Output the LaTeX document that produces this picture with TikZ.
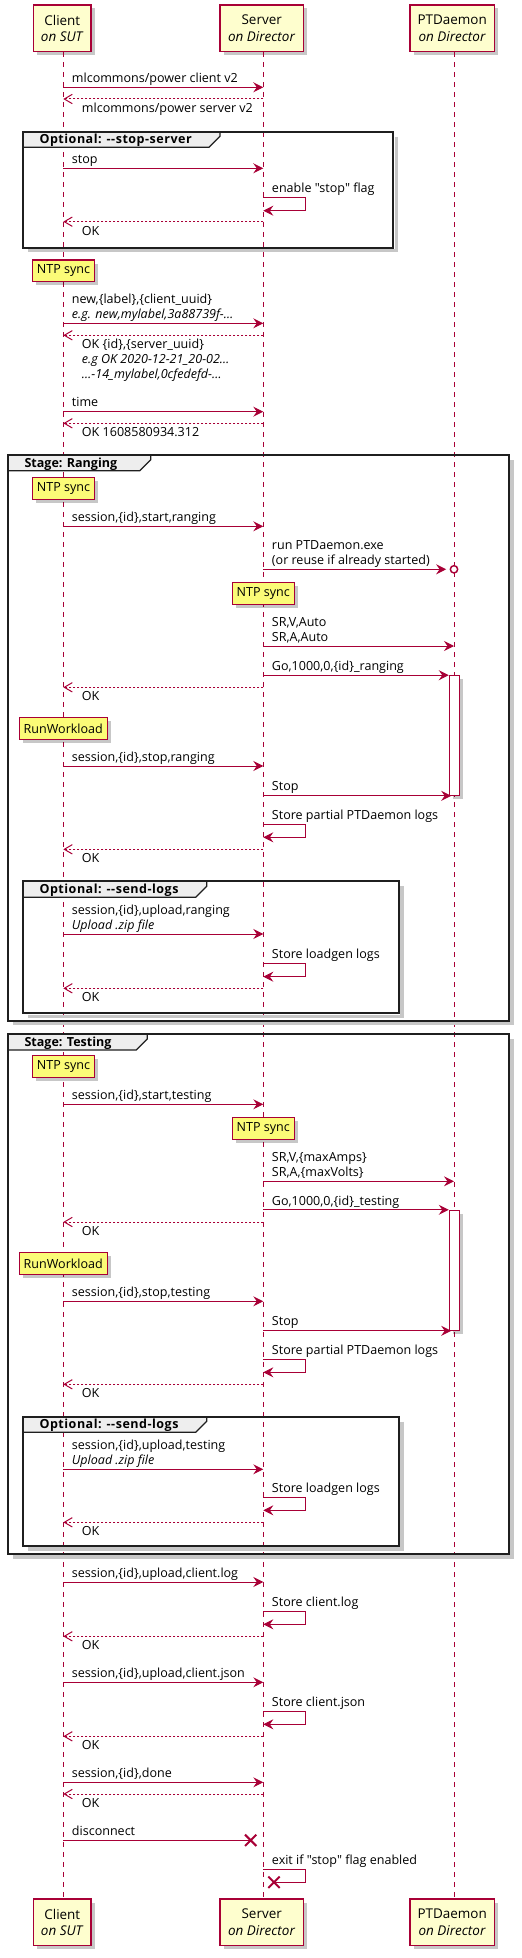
\documentclass[tikz,border=0pt]{standalone}
\usepackage{fontspec}
\setmainfont{Open Sans}[Ligatures=TeXOff]
\usetikzlibrary{arrows.meta,shapes.misc,shadows}
\definecolor{pu}{HTML}{A80036}
\definecolor{partfill}{HTML}{FEFECE}
\definecolor{notefill}{HTML}{FBFB77}
\definecolor{grphead}{HTML}{EEEEEE}
\newcommand\msgfont{\fontsize{9.4pt}{11.25pt}\selectfont}
\newcommand\partfont{\fontsize{10.1pt}{12.5pt}\selectfont}
\newcommand\wideopt{\addfontfeatures{LetterSpace=4}}
\tikzset{
  life/.style={draw=pu, line width=0.75pt, dash pattern=on 3.75pt off 3.75pt},
  msg/.style={draw=pu, line width=0.75pt, -{Stealth[length=7.5pt,width=7.5pt,inset=2.6pt]}},
  ret/.style={draw=pu, line width=0.75pt, dash pattern=on 1.5pt off 1.5pt, -{Straight Barb[length=6pt,width=7pt]}},
  selfm/.style={draw=pu, line width=0.75pt, -{Stealth[length=7.5pt,width=7.5pt,inset=2.6pt]}},
  plainm/.style={draw=pu, line width=0.75pt},
  lbl/.style={font=\msgfont, inner sep=0pt, anchor=base west},
  ilbl/.style={font=\msgfont\itshape, inner sep=0pt, anchor=base west},
  sh/.style={drop shadow={shadow xshift=2.6pt, shadow yshift=-2.6pt, opacity=0.22, fill=black}},
  part/.style={draw=pu, line width=1.1pt, fill=partfill, align=center, font=\partfont, inner sep=0pt, minimum height=35pt, sh},
  notebox/.style={draw=pu, line width=0.9pt, fill=notefill, font=\msgfont, inner sep=0pt, minimum height=16.2pt, sh},
  actbox/.style={draw=pu, fill=white, line width=0.75pt, sh},
  gframe/.style={draw=black!88, line width=1.6pt},
  gtabfill/.style={fill=grphead},
  gtabline/.style={draw=black!88, line width=0.9pt},
  gtitle/.style={font=\msgfont\bfseries, inner sep=0pt, anchor=base west},
  gshadow/.style={draw=black!22, line width=2.4pt},
  endcirc/.style={circle, draw=pu, fill=white, line width=1.1pt, minimum size=5.5pt, inner sep=0pt},
  xmark/.style={cross out, draw=pu, line width=1.5pt, minimum size=7pt, inner sep=0pt},
}
% group: name, x1, y1, x2, y2, tab right, tab bottom, title
\newcommand\grp[8]{%
  \draw[gshadow] (#4+3,#3+5) -- (#4+3,#5+3) -- (#2+5,#5+3);
  \fill[gtabfill] (#2,#3) -- (#6,#3) -- (#6,#7-11) -- (#6-11,#7) -- (#2,#7) -- cycle;
  \draw[gtabline] (#2,#7) -- (#6-11,#7) -- (#6,#7-11) -- (#6,#3);
  \draw[gframe] (#2,#3) rectangle (#4,#5);
  \node[gtitle] (#1) at (#2+16,#7-3.6) {#8};%
}
\begin{document}
\begin{tikzpicture}[x=0.75pt,y=-0.75pt]
\useasboundingbox (0,0) rectangle (521,1958);
% lifeline positions
\coordinate (C) at (63.3,0);
\coordinate (S) at (263.3,0);
\coordinate (P) at (454,0);
% participants
\node[part, minimum width=43.3pt] (cT) at (62.3,28.35) {Client\\\textit{on SUT}};
\node[part, minimum width=62.5pt] (sT) at (261.7,28.35) {Server\\\textit{on Director}};
\node[part, minimum width=63.2pt] (pT) at (452.2,28.35) {PTDaemon\\\textit{on Director}};
\node[part, minimum width=43.3pt] (cB) at (62.3,1922.35) {Client\\\textit{on SUT}};
\node[part, minimum width=62.5pt] (sB) at (261.7,1922.35) {Server\\\textit{on Director}};
\node[part, minimum width=63.2pt] (pB) at (452.2,1922.35) {PTDaemon\\\textit{on Director}};
% lifelines
\draw[life] (C |- cT.south) -- (C |- cB.north);
\draw[life] (S |- sT.south) -- (S |- sB.north);
\draw[life] (P |- pT.south) -- (P |- pB.north);
% groups
\grp{g1}{23.3}{131.7}{393.3}{247.7}{220}{147.3}{\wideopt Optional: --stop-server}
\grp{g2}{8.3}{455}{509}{1020.7}{150.7}{470.7}{Stage: Ranging}
\grp{g3}{23.3}{881}{399}{1013.3}{206.7}{897.3}{\wideopt Optional: --send-logs}
\grp{g4}{8.3}{1034}{509}{1554}{147.3}{1050}{Stage: Testing}
\grp{g5}{23.3}{1416.7}{399}{1546}{206.7}{1432.3}{\wideopt Optional: --send-logs}
% activations
\node[actbox, minimum width=7.5pt, minimum height=89.7pt, inner sep=0pt] (a1) at (454.3,735.5) {};
\node[actbox, minimum width=7.5pt, minimum height=90pt, inner sep=0pt] (a2) at (454.3,1270.3) {};
% notes
\node[notebox, minimum width=46.8pt] (n1) at (63.5,270.85) {NTP sync};
\node[notebox, minimum width=46.8pt] (n2) at (63.5,488.5) {NTP sync};
\node[notebox, minimum width=46.5pt] (n3) at (263.3,593.5) {NTP sync};
\node[notebox, minimum width=66pt] (n4) at (63.3,728.5) {RunWorkload};
\node[notebox, minimum width=46.8pt] (n5) at (63.5,1066.65) {NTP sync};
\node[notebox, minimum width=46.5pt] (n6) at (263.3,1128.3) {NTP sync};
\node[notebox, minimum width=66pt] (n7) at (63.3,1263.35) {RunWorkload};
% ---- messages ----
\draw[msg] (C |- 0,87.3) -- (S |- 0,87.3);
\node[lbl] (m1) at (71.7,82.3) {mlcommons/power client v2};
\draw[ret] (S |- 0,99) -- (C |- 0,99);
\node[lbl] (m2) at (81.7,112.5) {mlcommons/power server v2};
\draw[msg] (C |- 0,168.3) -- (S |- 0,168.3);
\node[lbl] (m3) at (71.7,163.3) {stop};
\draw[selfm] (S |- 0,197.3) -- (305.7,197.3) -- (305.7,210.7) -- (S |- 0,210.7);
\node[lbl] (m4) at (271.7,192.3) {enable "stop" flag};
\draw[ret] (S |- 0,221.7) -- (C |- 0,221.7);
\node[lbl] (m5) at (81.7,235.2) {OK};
\draw[msg] (C |- 0,323.3) -- (S |- 0,323.3);
\node[lbl] (m6a) at (71.7,303.3) {new,\{label\},\{client\_uuid\}};
\node[ilbl] (m6b) at (71.7,318.3) {e.g. new,mylabel,3a88739f-…};
\draw[ret] (S |- 0,335.3) -- (C |- 0,335.3);
\node[lbl] (m7a) at (81.7,348.8) {OK \{id\},\{server\_uuid\}};
\node[ilbl] (m7b) at (81.7,363.8) {e.g OK 2020-12-21\_20-02…};
\node[ilbl] (m7c) at (81.7,378.8) {…-14\_mylabel,0cfedefd-…};
\draw[msg] (C |- 0,411.7) -- (S |- 0,411.7);
\node[lbl] (m8) at (71.7,406.7) {time};
\draw[ret] (S |- 0,423.3) -- (C |- 0,423.3);
\node[lbl] (m9) at (81.7,436.8) {OK 1608580934.312};
% ranging
\draw[msg] (C |- 0,526.3) -- (S |- 0,526.3);
\node[lbl] (m10) at (71.7,521.3) {session,\{id\},start,ranging};
\node[endcirc] (run) at (P |- 0,569.3) {};
\draw[msg, shorten >=2.6pt] (S |- run) -- (run.west);
\node[lbl] (m11a) at (271.7,549.3) {run PTDaemon.exe};
\node[lbl] (m11b) at (271.7,564.3) {(or reuse if already started)};
\draw[msg] (S |- 0,646) -- (P |- 0,646);
\node[lbl] (m12a) at (271.7,626) {SR,V,Auto};
\node[lbl] (m12b) at (271.7,641) {SR,A,Auto};
\draw[msg] (S |- a1.north west) -- (a1.north west);
\node[lbl] (m13) at (271.7,670.7) {Go,1000,0,\{id\}\_ranging};
\draw[ret] (S |- 0,687.3) -- (C |- 0,687.3);
\node[lbl] (m14) at (81.7,700.8) {OK};
\draw[msg] (C |- 0,766) -- (S |- 0,766);
\node[lbl] (m15) at (71.7,761) {session,\{id\},stop,ranging};
\draw[msg] (S |- a1.south west) -- ([xshift=1.8pt]a1.south west);
\node[lbl] (m16) at (271.7,790.3) {Stop};
\draw[selfm] (S |- 0,824.3) -- (305.7,824.3) -- (305.7,837.3) -- (S |- 0,837.3);
\node[lbl] (m17) at (271.7,819.3) {Store partial PTDaemon logs};
\draw[ret] (S |- 0,849.3) -- (C |- 0,849.3);
\node[lbl] (m18) at (81.7,862.8) {OK};
\draw[msg] (C |- 0,934) -- (S |- 0,934);
\node[lbl] (m19a) at (71.7,914) {session,\{id\},upload,ranging};
\node[ilbl] (m19b) at (71.7,929) {Upload .zip file};
\draw[selfm] (S |- 0,963.3) -- (305.7,963.3) -- (305.7,976.7) -- (S |- 0,976.7);
\node[lbl] (m20) at (271.7,958.3) {Store loadgen logs};
\draw[ret] (S |- 0,988.3) -- (C |- 0,988.3);
\node[lbl] (m21) at (81.7,1001.8) {OK};
% testing
\draw[msg] (C |- 0,1104.3) -- (S |- 0,1104.3);
\node[lbl] (m22) at (71.7,1099.3) {session,\{id\},start,testing};
\draw[msg] (S |- 0,1181.3) -- (P |- 0,1181.3);
\node[lbl] (m23a) at (271.7,1161.3) {SR,V,\{maxAmps\}};
\node[lbl] (m23b) at (271.7,1176.3) {SR,A,\{maxVolts\}};
\draw[msg] (S |- a2.north west) -- (a2.north west);
\node[lbl] (m24) at (271.7,1205.3) {Go,1000,0,\{id\}\_testing};
\draw[ret] (S |- 0,1222) -- (C |- 0,1222);
\node[lbl] (m25) at (81.7,1235.5) {OK};
\draw[msg] (C |- 0,1301.3) -- (S |- 0,1301.3);
\node[lbl] (m26) at (71.7,1296.3) {session,\{id\},stop,testing};
\draw[msg] (S |- a2.south west) -- ([xshift=1.8pt]a2.south west);
\node[lbl] (m27) at (271.7,1325.3) {Stop};
\draw[selfm] (S |- 0,1359.3) -- (305.7,1359.3) -- (305.7,1372.3) -- (S |- 0,1372.3);
\node[lbl] (m28) at (271.7,1354.3) {Store partial PTDaemon logs};
\draw[ret] (S |- 0,1384.3) -- (C |- 0,1384.3);
\node[lbl] (m29) at (81.7,1397.8) {OK};
\draw[msg] (C |- 0,1469.3) -- (S |- 0,1469.3);
\node[lbl] (m30a) at (71.7,1449.3) {session,\{id\},upload,testing};
\node[ilbl] (m30b) at (71.7,1464.3) {Upload .zip file};
\draw[selfm] (S |- 0,1497.7) -- (305.7,1497.7) -- (305.7,1510.3) -- (S |- 0,1510.3);
\node[lbl] (m31) at (271.7,1492.7) {Store loadgen logs};
\draw[ret] (S |- 0,1522.3) -- (C |- 0,1522.3);
\node[lbl] (m32) at (81.7,1535.8) {OK};
% after stages
\draw[msg] (C |- 0,1582) -- (S |- 0,1582);
\node[lbl] (m33) at (71.7,1577) {session,\{id\},upload,client.log};
\draw[selfm] (S |- 0,1611.3) -- (305.7,1611.3) -- (305.7,1624.3) -- (S |- 0,1624.3);
\node[lbl] (m34) at (271.7,1606.3) {Store client.log};
\draw[ret] (S |- 0,1636.3) -- (C |- 0,1636.3);
\node[lbl] (m35) at (81.7,1649.8) {OK};
\draw[msg] (C |- 0,1682.3) -- (S |- 0,1682.3);
\node[lbl] (m36) at (71.7,1677.3) {session,\{id\},upload,client.json};
\draw[selfm] (S |- 0,1711.3) -- (305.7,1711.3) -- (305.7,1724.3) -- (S |- 0,1724.3);
\node[lbl] (m37) at (271.7,1706.3) {Store client.json};
\draw[ret] (S |- 0,1736.3) -- (C |- 0,1736.3);
\node[lbl] (m38) at (81.7,1749.8) {OK};
\draw[msg] (C |- 0,1782.3) -- (S |- 0,1782.3);
\node[lbl] (m39) at (71.7,1777.3) {session,\{id\},done};
\draw[ret] (S |- 0,1794) -- (C |- 0,1794);
\node[lbl] (m40) at (81.7,1807.5) {OK};
\node[xmark] (x1) at (250.7,1840.3) {};
\draw[plainm] (C |- x1) -- (x1.center);
\node[lbl] (m41) at (71.7,1835) {disconnect};
\node[xmark] (x2) at (274,1882.3) {};
\draw[plainm] (S |- 0,1869.3) -- (305.7,1869.3) -- (305.7,1882.3) -- (x2.center);
\node[lbl] (m42) at (271.7,1864.3) {exit if "stop" flag enabled};
\end{tikzpicture}
\end{document}
